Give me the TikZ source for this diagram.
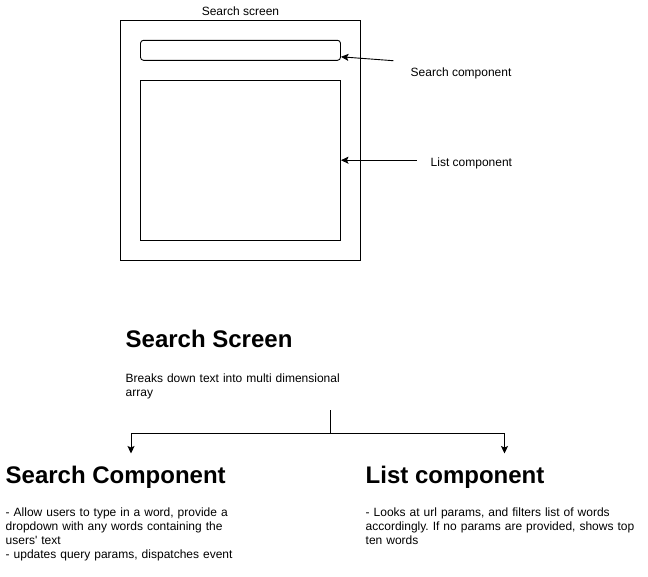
\documentclass[tikz,border=0pt]{standalone}
\usepackage{fontspec}
\setmainfont{Liberation Sans}
\usetikzlibrary{arrows.meta}
\frenchspacing
\begin{document}
\begin{tikzpicture}[x=1pt,y=-1pt,
  line/.style={draw=black,line width=0.9pt},
  arr/.style={line,-{Stealth[length=7.5pt,width=7pt,inset=1.5pt]}},
  lbl/.style={font=\fontsize{12}{14}\selectfont,inner sep=0pt,anchor=base west},
  para/.style={font=\fontsize{12}{14}\selectfont,inner sep=0pt,anchor=base west,
    align=left,text width=300pt},
  head/.style={font=\fontsize{24}{28}\selectfont\bfseries,inner sep=0pt,anchor=base west}]
\useasboundingbox (0,0) rectangle (648,576);

% screen mock-up
\node[line,inner sep=0pt,minimum width=240pt,minimum height=240pt] (screen) at (240.5,140) {};
\node[line,rounded corners=3pt,inner sep=0pt,minimum width=200pt,minimum height=20pt] (sbar) at (240.5,50.3) {};
\node[line,inner sep=0pt,minimum width=200pt,minimum height=160pt] (lbox) at (240.5,160.2) {};
\node[lbl,anchor=base] (screentitle) at (240.5,15.7) {Search screen};

% callouts
\node[lbl] (sclabel) at (410.5,76) {Search component};
\node[lbl] (lclabel) at (430.5,166) {List component};
\coordinate (sa) at (393.3,60.7);
\coordinate (la) at (416.7,160.2);
\draw[arr] (sa) -- ([yshift=-6.5pt]sbar.east);
\draw[arr] (la) -- (lbox.east);

% component description
\node[head] (h1) at (125.5,347.7) {Search Screen};
\node[para] (d1) at (125.5,382) {Breaks down text into multi dimensional\\array};

\coordinate (top) at (330.5,410);
\coordinate (j) at (330.5,433);
\coordinate (lt) at (131,453.5);
\coordinate (rt) at (504.5,453.5);
\draw[line] (top) -- (j);
\draw[arr] (j) -| (lt);
\draw[arr] (j) -| (rt);

\node[head] (h2) at (5.5,483.3) {Search Component};
\node[para] (d2) at (5.5,516) {- Allow users to type in a word, provide a\\dropdown with any words containing the\\users\textquotesingle{} text\\- updates query params, dispatches event};

\node[head] (h3) at (365.5,483.3) {List component};
\node[para] (d3) at (365.5,516) {- Looks at url params, and filters list of words\\accordingly. If no params are provided, shows top\\ten words};
\end{tikzpicture}
\end{document}
